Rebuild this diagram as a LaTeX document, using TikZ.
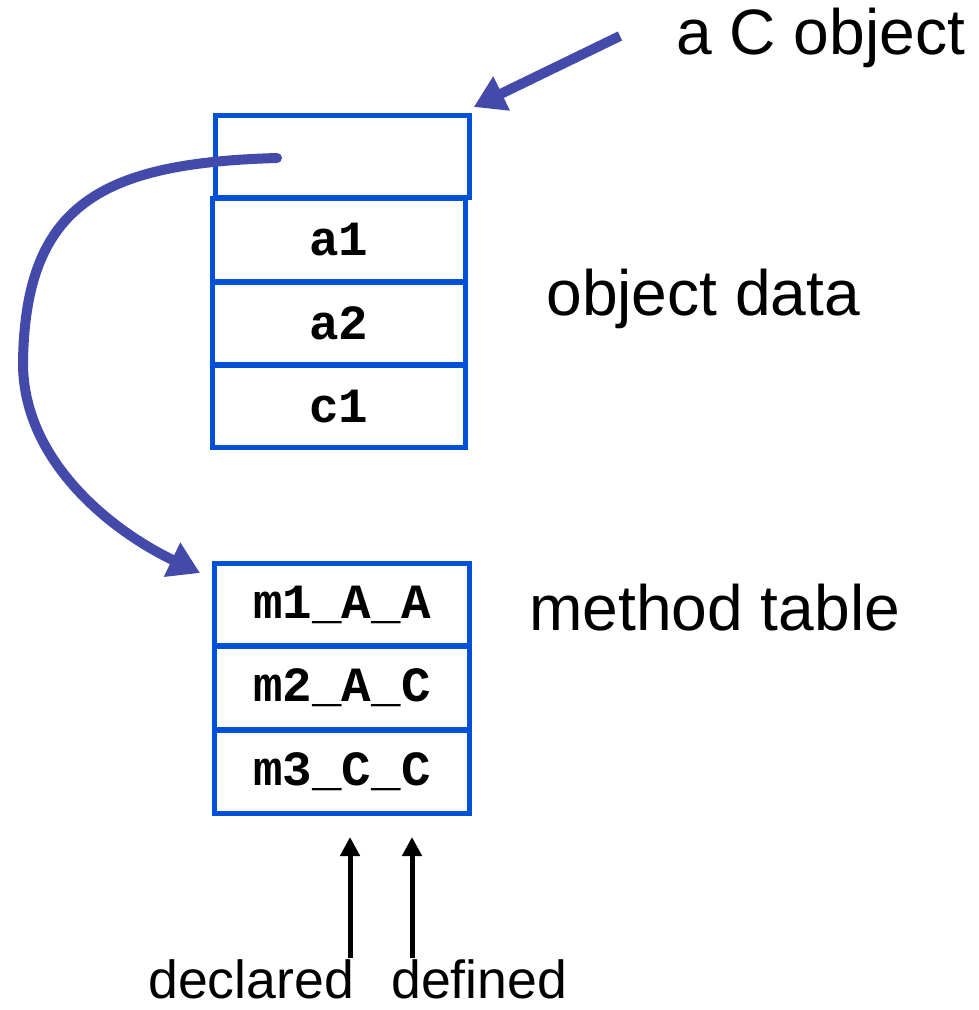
\documentclass[tikz,border=0pt]{standalone}
\usepackage{fontspec}
\setmainfont{Liberation Sans}
\setmonofont{Liberation Mono}
\usetikzlibrary{arrows.meta,positioning}
\definecolor{slotblue}{RGB}{0,80,216}
\definecolor{ptrindigo}{RGB}{68,74,170}
\tikzset{
 obj slot/.style={draw=slotblue,line width=0.1cm,minimum width=5.07cm,
                  minimum height=1.66cm,inner sep=0pt,
                  font=\fontsize{28}{31}\selectfont\ttfamily\bfseries},
 obj ptr/.style={ptrindigo,line width=0.2cm,
                 -{Triangle[length=0.62cm,width=0.72cm]}},
 obj mark/.style={black,line width=0.1cm,
                  -{Triangle[length=0.38cm,width=0.38cm]}},
 obj label/.style={anchor=base west,inner sep=0pt,
                   font=\fontsize{36.5}{41}\selectfont},
 obj note/.style={anchor=base west,inner sep=0pt,
                  font=\fontsize{30.5}{35}\selectfont}
}
\begin{document}
\begin{tikzpicture}[x=0.02cm,y=-0.02cm]
 \useasboundingbox (0,0) rectangle (978,1010);

 % the object
 \node[obj slot,minimum height=1.64cm] (ptr) at (342.5,156.5) {};
 \node[obj slot] (a1) at (339,240) {a1};
 \node[obj slot] (a2) at (339,323.5) {a2};
 \node[obj slot] (c1) at (339,406.5) {c1};

 % its method table
 \node[obj slot,minimum width=5.1cm] (m1) at (342,604.5) {m1\_A\_A};
 \node[obj slot,minimum width=5.1cm] (m2) at (342,688) {m2\_A\_C};
 \node[obj slot,minimum width=5.1cm] (m3) at (342,771.5) {m3\_C\_C};

 \node[obj label] (cobj) at (676,55) {a C object};
 \node[obj label] (odata) at (546,315) {object data};
 \node[obj label] (mtab) at (529,630) {method table};
 \node[obj note] (decl) at (148,998) {declared};
 \node[obj note] (defn) at (391,998) {defined};

 \coordinate (callout) at (620,36);
 \coordinate (vptr) at (277,158);
 \coordinate (vtip) at (200,573);
 \draw[obj ptr] (callout) -- ([shift={(2,-6)}]ptr.north east);
 \draw[obj ptr,line cap=round] (vptr) .. controls (100,163) and (25,205) .. (23,363)
   .. controls (23,460) and (110,530) .. (vtip);

 \coordinate (dclfoot) at (350,958);
 \coordinate (dcltip) at (350,837);
 \coordinate (dflfoot) at (412,958);
 \coordinate (dfltip) at (412,837);
 \draw[obj mark] (dclfoot) -- (dcltip);
 \draw[obj mark] (dflfoot) -- (dfltip);
\end{tikzpicture}
\end{document}
